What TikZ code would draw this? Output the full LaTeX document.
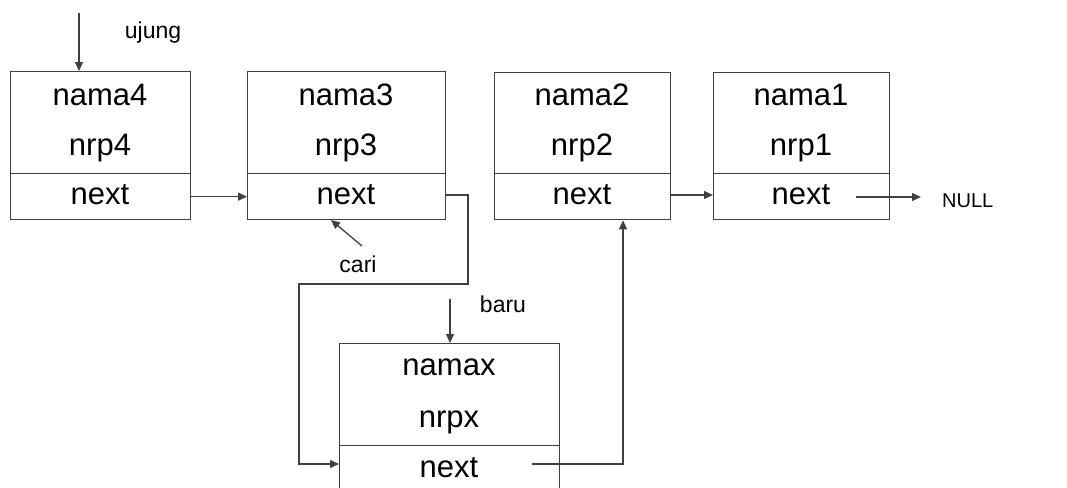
\documentclass[tikz,border=0pt]{standalone}
\usepackage{fontspec}
\setmainfont{Liberation Sans}
\usetikzlibrary{arrows.meta}
\begin{document}
\begin{tikzpicture}[x=1pt,y=-1pt,
  line/.style={draw=black!75, line width=1.3pt},
  field/.style={line, rectangle, inner sep=0pt, anchor=north west},
  txt/.style={anchor=base, inner sep=0pt, font=\fontsize{31}{31}\selectfont},
  lbl/.style={anchor=base, inner sep=0pt, font=\fontsize{23}{23}\selectfont},
  arr/.style={line, -{Triangle[length=9pt,width=8pt]}}]
\useasboundingbox (0,0) rectangle (1067,487);
\clip (0,0) rectangle (1067,487);
% node 4
\node[field, minimum width=180pt, minimum height=102pt] (n4d) at (10,71) {};
\node[field, minimum width=180pt, minimum height=46pt] (n4n) at (10,173) {};
\node[txt] (t4a) at (100,105) {nama4};
\node[txt] (t4b) at (100,155) {nrp4};
\node[txt] (t4c) at (100,204) {next};
% node 3
\node[field, minimum width=198pt, minimum height=102pt] (n3d) at (247,71) {};
\node[field, minimum width=198pt, minimum height=46pt] (n3n) at (247,173) {};
\node[txt] (t3a) at (346,105) {nama3};
\node[txt] (t3b) at (346,155) {nrp3};
\node[txt] (t3c) at (346,204) {next};
% node 2
\node[field, minimum width=176pt, minimum height=101pt] (n2d) at (494,72) {};
\node[field, minimum width=176pt, minimum height=46pt] (n2n) at (494,173) {};
\node[txt] (t2a) at (582,105) {nama2};
\node[txt] (t2b) at (582,155) {nrp2};
\node[txt] (t2c) at (582,204) {next};
% node 1
\node[field, minimum width=176pt, minimum height=101pt] (n1d) at (713,72) {};
\node[field, minimum width=176pt, minimum height=46pt] (n1n) at (713,173) {};
\node[txt] (t1a) at (801,105) {nama1};
\node[txt] (t1b) at (801,155) {nrp1};
\node[txt] (t1c) at (801,204) {next};
% new node
\node[field, minimum width=220pt, minimum height=102pt] (nxd) at (339,343) {};
\node[field, minimum width=220pt, minimum height=60pt] (nxn) at (339,445) {};
\node[txt] (txa) at (449,375) {namax};
\node[txt] (txb) at (449,427) {nrpx};
\node[txt] (txc) at (449,477) {next};
% labels
\node[lbl] (ujung) at (153,38) {ujung};
\node[lbl] (cari) at (358,272) {cari};
\node[lbl] (baru) at (503,312) {baru};
\node[lbl, anchor=base west, font=\fontsize{20}{20}\selectfont] (null) at (942,207) {NULL};
% coordinates
\coordinate (ujtop) at (79,13);
\coordinate (caris) at (362,246);
\coordinate (carie) at (331,220);
\coordinate (barutop) at (450,299);
\coordinate (p3a) at (468,195);
\coordinate (p3b) at (468,284);
\coordinate (p3c) at (299,284);
\coordinate (p3d) at (299,464);
\coordinate (pxs) at (532,464);
\coordinate (pxc) at (623,464);
\coordinate (p1s) at (856,197);
\coordinate (p1e) at (921,197);
% connectors
\draw[arr] (ujtop) -- (ujtop |- n4d.north);
\draw[arr] (n4n.east) -- (n3n.west);
\draw[arr] (n2n.east |- 0,195) -- (n1n.west |- 0,195);
\draw[arr] (p1s) -- (p1e);
\draw[arr] (caris) -- (carie);
\draw[arr] (barutop) -- (barutop |- nxd.north);
\draw[arr] (n3n.east |- p3a) -- (p3a) -- (p3b) -- (p3c) -- (p3d) -- (nxn.west |- p3d);
\draw[arr] (pxs) -- (pxc) -- (pxc |- n2n.south);
\end{tikzpicture}
\end{document}
